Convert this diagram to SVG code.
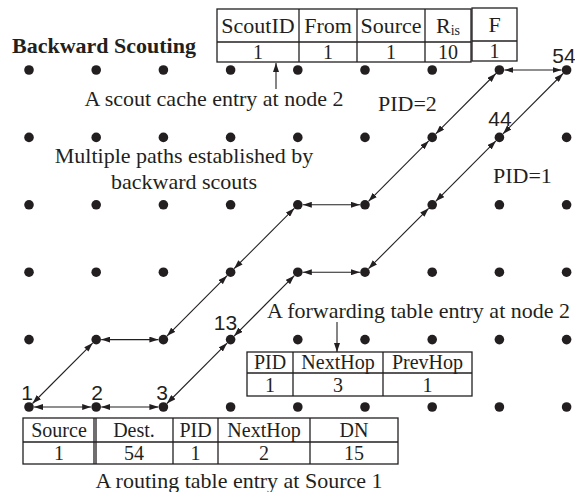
<svg xmlns="http://www.w3.org/2000/svg" width="575" height="492" viewBox="0 0 575 492">
<style>
.bg{fill:#fff}
.dot{fill:#231f20}
.num{font-family:"Liberation Sans",Arial,sans-serif;font-size:21px;fill:#231f20;text-anchor:middle}
.t{font-family:"Liberation Serif","Times New Roman",serif;font-size:22px;fill:#231f20}
.s{font-size:20px}
.c{text-anchor:middle}
.b{font-weight:bold}
.cell{fill:#fff;stroke:#231f20;stroke-width:1.3}
.ln{stroke:#231f20;stroke-width:1.3;fill:none}
.e{stroke:#231f20;stroke-width:1.1;fill:none;marker-start:url(#ah);marker-end:url(#ah)}
.p{stroke:#231f20;stroke-width:1.1;fill:none;marker-end:url(#ah)}
</style>
<defs>
<marker id="ah" viewBox="0 0 9 6" refX="9" refY="3" markerWidth="9" markerHeight="6" markerUnits="userSpaceOnUse" orient="auto-start-reverse">
<path d="M0,0 L9,3 L0,6 z" fill="#231f20"/>
</marker>
</defs>
<rect class="bg" x="0" y="0" width="575" height="492"/>

<text class="t b" x="12" y="53">Backward Scouting</text>

<!-- nodes: row 6 (top) -->
<g id="n46"><circle class="dot" cx="29" cy="70" r="4.8"/></g>
<g id="n47"><circle class="dot" cx="96.2" cy="70" r="4.8"/></g>
<g id="n48"><circle class="dot" cx="163.4" cy="70" r="4.8"/></g>
<g id="n49"><circle class="dot" cx="230.6" cy="70" r="4.8"/></g>
<g id="n50"><circle class="dot" cx="297.8" cy="70" r="4.8"/></g>
<g id="n51"><circle class="dot" cx="365" cy="70" r="4.8"/></g>
<g id="n52"><circle class="dot" cx="432.2" cy="70" r="4.8"/></g>
<g id="n53"><circle class="dot" cx="499.4" cy="70" r="4.8"/></g>
<g id="n54"><circle class="dot" cx="566.6" cy="70" r="4.8"/><text class="num" x="564" y="63">54</text></g>
<!-- row 5 -->
<g id="n37"><circle class="dot" cx="29" cy="137.4" r="4.8"/></g>
<g id="n38"><circle class="dot" cx="96.2" cy="137.4" r="4.8"/></g>
<g id="n39"><circle class="dot" cx="163.4" cy="137.4" r="4.8"/></g>
<g id="n40"><circle class="dot" cx="230.6" cy="137.4" r="4.8"/></g>
<g id="n41"><circle class="dot" cx="297.8" cy="137.4" r="4.8"/></g>
<g id="n42"><circle class="dot" cx="365" cy="137.4" r="4.8"/></g>
<g id="n43"><circle class="dot" cx="432.2" cy="137.4" r="4.8"/></g>
<g id="n44"><circle class="dot" cx="499.4" cy="137.4" r="4.8"/><text class="num" x="500" y="126">44</text></g>
<g id="n45"><circle class="dot" cx="566.6" cy="137.4" r="4.8"/></g>
<!-- row 4 -->
<g id="n28"><circle class="dot" cx="29" cy="204.8" r="4.8"/></g>
<g id="n29"><circle class="dot" cx="96.2" cy="204.8" r="4.8"/></g>
<g id="n30"><circle class="dot" cx="163.4" cy="204.8" r="4.8"/></g>
<g id="n31"><circle class="dot" cx="230.6" cy="204.8" r="4.8"/></g>
<g id="n32"><circle class="dot" cx="297.8" cy="204.8" r="4.8"/></g>
<g id="n33"><circle class="dot" cx="365" cy="204.8" r="4.8"/></g>
<g id="n34"><circle class="dot" cx="432.2" cy="204.8" r="4.8"/></g>
<g id="n35"><circle class="dot" cx="499.4" cy="204.8" r="4.8"/></g>
<g id="n36"><circle class="dot" cx="566.6" cy="204.8" r="4.8"/></g>
<!-- row 3 -->
<g id="n19"><circle class="dot" cx="29" cy="272.2" r="4.8"/></g>
<g id="n20"><circle class="dot" cx="96.2" cy="272.2" r="4.8"/></g>
<g id="n21"><circle class="dot" cx="163.4" cy="272.2" r="4.8"/></g>
<g id="n22"><circle class="dot" cx="230.6" cy="272.2" r="4.8"/></g>
<g id="n23"><circle class="dot" cx="297.8" cy="272.2" r="4.8"/></g>
<g id="n24"><circle class="dot" cx="365" cy="272.2" r="4.8"/></g>
<g id="n25"><circle class="dot" cx="432.2" cy="272.2" r="4.8"/></g>
<g id="n26"><circle class="dot" cx="499.4" cy="272.2" r="4.8"/></g>
<g id="n27"><circle class="dot" cx="566.6" cy="272.2" r="4.8"/></g>
<!-- row 2 -->
<g id="n10"><circle class="dot" cx="29" cy="339.6" r="4.8"/></g>
<g id="n11"><circle class="dot" cx="96.2" cy="339.6" r="4.8"/></g>
<g id="n12"><circle class="dot" cx="163.4" cy="339.6" r="4.8"/></g>
<g id="n13"><circle class="dot" cx="230.6" cy="339.6" r="4.8"/><text class="num" x="225.5" y="330">13</text></g>
<g id="n14"><circle class="dot" cx="297.8" cy="339.6" r="4.8"/></g>
<g id="n15"><circle class="dot" cx="365" cy="339.6" r="4.8"/></g>
<g id="n16"><circle class="dot" cx="432.2" cy="339.6" r="4.8"/></g>
<g id="n17"><circle class="dot" cx="499.4" cy="339.6" r="4.8"/></g>
<g id="n18"><circle class="dot" cx="566.6" cy="339.6" r="4.8"/></g>
<!-- row 1 (bottom) -->
<g id="n1"><circle class="dot" cx="29" cy="407" r="4.8"/><text class="num" x="27" y="400">1</text></g>
<g id="n2"><circle class="dot" cx="96.2" cy="407" r="4.8"/><text class="num" x="97" y="400">2</text></g>
<g id="n3"><circle class="dot" cx="163.4" cy="407" r="4.8"/><text class="num" x="162" y="400">3</text></g>
<g id="n4"><circle class="dot" cx="230.6" cy="407" r="4.8"/></g>
<g id="n5"><circle class="dot" cx="297.8" cy="407" r="4.8"/></g>
<g id="n6"><circle class="dot" cx="365" cy="407" r="4.8"/></g>
<g id="n7"><circle class="dot" cx="432.2" cy="407" r="4.8"/></g>
<g id="n8"><circle class="dot" cx="499.4" cy="407" r="4.8"/></g>
<g id="n9"><circle class="dot" cx="566.6" cy="407" r="4.8"/></g>

<!-- connectors -->
<g id="connectors">
<line class="e" x1="32.5" y1="403.5" x2="92.7" y2="343.1"/>
<line class="e" x1="101.2" y1="339.6" x2="158.4" y2="339.6"/>
<line class="e" x1="166.9" y1="336.1" x2="227.1" y2="275.7"/>
<line class="e" x1="234.1" y1="268.7" x2="294.3" y2="208.3"/>
<line class="e" x1="302.8" y1="204.8" x2="360" y2="204.8"/>
<line class="e" x1="368.5" y1="201.3" x2="428.7" y2="140.9"/>
<line class="e" x1="435.7" y1="133.9" x2="495.9" y2="73.5"/>
<line class="e" x1="504.4" y1="70" x2="561.6" y2="70"/>
<line class="e" x1="34" y1="407" x2="91.2" y2="407"/>
<line class="e" x1="101.2" y1="407" x2="158.4" y2="407"/>
<line class="e" x1="166.9" y1="403.5" x2="227.1" y2="343.1"/>
<line class="e" x1="234.1" y1="336.1" x2="294.3" y2="275.7"/>
<line class="e" x1="302.8" y1="272.2" x2="360" y2="272.2"/>
<line class="e" x1="368.5" y1="268.7" x2="428.7" y2="208.3"/>
<line class="e" x1="435.7" y1="201.3" x2="495.9" y2="140.9"/>
<line class="e" x1="502.9" y1="133.9" x2="563.1" y2="73.5"/>
<line class="p" x1="276" y1="89" x2="276" y2="63"/>
<line class="p" x1="337" y1="322" x2="337" y2="352"/>
</g>

<text class="t" x="378" y="111">PID=2</text>
<text class="t" x="493" y="183">PID=1</text>
<text class="t c" x="214" y="106">A scout cache entry at node 2</text>
<text class="t c" x="184" y="163">Multiple paths established by</text>
<text class="t c" x="184" y="189">backward scouts</text>
<text class="t" x="267" y="318">A forwarding table entry at node 2</text>
<text class="t c" x="239" y="488">A routing table entry at Source 1</text>

<!-- scout cache table -->
<g id="scout-cache">
<rect class="cell" x="217" y="9" width="254" height="53"/>
<line class="ln" x1="217" y1="42" x2="471" y2="42"/>
<line class="ln" x1="299" y1="9" x2="299" y2="62"/>
<line class="ln" x1="357" y1="9" x2="357" y2="62"/>
<line class="ln" x1="425" y1="9" x2="425" y2="62"/>
<rect class="cell" x="472" y="8" width="45" height="53"/>
<line class="ln" x1="472" y1="41" x2="517" y2="41"/>
<text class="t c" x="258" y="33">ScoutID</text>
<text class="t c" x="328" y="33">From</text>
<text class="t c" x="391" y="33">Source</text>
<text class="t c" x="448" y="33">R<tspan font-size="14" dy="2">is</tspan></text>
<text class="t c" x="494.5" y="32">F</text>
<text class="t c s" x="258" y="59">1</text>
<text class="t c s" x="328" y="59">1</text>
<text class="t c s" x="391" y="59">1</text>
<text class="t c s" x="448" y="59">10</text>
<text class="t c s" x="494.5" y="58">1</text>
</g>

<!-- forwarding table -->
<g id="fwd-table">
<rect class="cell" x="247" y="352" width="225" height="44"/>
<line class="ln" x1="247" y1="373" x2="472" y2="373"/>
<line class="ln" x1="293" y1="352" x2="293" y2="396"/>
<line class="ln" x1="383" y1="352" x2="383" y2="396"/>
<text class="t c s" x="270" y="369">PID</text>
<text class="t c s" x="338" y="369">NextHop</text>
<text class="t c s" x="427.5" y="369">PrevHop</text>
<text class="t c s" x="270" y="392">1</text>
<text class="t c s" x="338" y="392">3</text>
<text class="t c s" x="427.5" y="392">1</text>
</g>

<!-- routing table -->
<g id="routing-table">
<rect class="cell" x="23" y="418" width="375" height="46"/>
<line class="ln" x1="23" y1="442" x2="398" y2="442"/>
<line class="ln" x1="94" y1="418" x2="94" y2="464"/>
<line class="ln" x1="96" y1="418" x2="96" y2="464"/>
<line class="ln" x1="173" y1="418" x2="173" y2="464"/>
<line class="ln" x1="218" y1="418" x2="218" y2="464"/>
<line class="ln" x1="310" y1="418" x2="310" y2="464"/>
<text class="t c s" x="59" y="437">Source</text>
<text class="t c s" x="134" y="437">Dest.</text>
<text class="t c s" x="195.5" y="437">PID</text>
<text class="t c s" x="264" y="437">NextHop</text>
<text class="t c s" x="354" y="437">DN</text>
<text class="t c s" x="59" y="460">1</text>
<text class="t c s" x="134" y="460">54</text>
<text class="t c s" x="195.5" y="460">1</text>
<text class="t c s" x="264" y="460">2</text>
<text class="t c s" x="354" y="460">15</text>
</g>
</svg>
